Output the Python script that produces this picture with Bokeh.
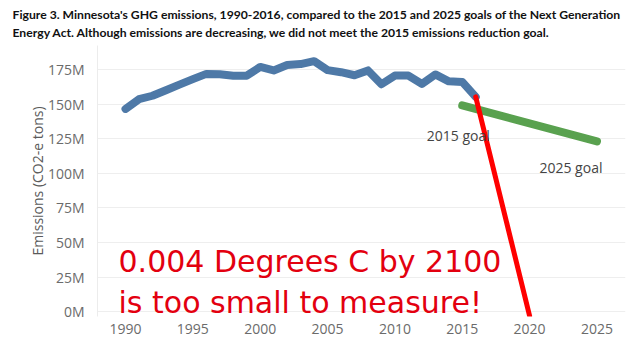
from bokeh.plotting import figure
from bokeh.models import FixedTicker, PrintfTickFormatter, Label, Range1d, Title
from bokeh.embed import file_html
from bokeh.resources import INLINE

# ---- data (values in millions of CO2-e tons) ----
years = [1990, 1991, 1992, 1993, 1994, 1995, 1996, 1997, 1998, 1999,
         2000, 2001, 2002, 2003, 2004, 2005, 2006, 2007, 2008, 2009,
         2010, 2011, 2012, 2013, 2014, 2015, 2016]
emissions = [146.5, 153.5, 156.0, 160.0, 164.0, 168.0, 171.8, 171.5, 170.5, 170.5,
             176.8, 174.3, 178.2, 178.9, 181.0, 174.5, 173.0, 170.8, 174.3, 164.3,
             170.6, 170.6, 164.5, 171.4, 166.4, 166.0, 155.2]
goal_years = [2015, 2025]
goal_values = [149.0, 123.0]
goal_labels = ["2015 goal", "2025 goal"]
red_years = [2016, 2020]
red_values = [155.2, -3.0]
x_ticks = [1990, 1995, 2000, 2005, 2010, 2015, 2020, 2025]
y_ticks = [0, 25, 50, 75, 100, 125, 150, 175]

title1 = ("Figure 3. Minnesota's GHG emissions, 1990-2016, compared to the 2015 "
          "and 2025 goals of the Next Generation")
title2 = ("Energy Act. Although emissions are decreasing, we did not meet the 2015 "
          "emissions reduction goal.")
note1 = "0.004 Degrees C by 2100"
note2 = "is too small to measure!"

p = figure(width=632, height=345, output_backend="svg", toolbar_location=None,
           title=None,
           x_range=Range1d(1987.92, 2027.12), y_range=Range1d(-3.47, 192.3),
           min_border_left=97, min_border_right=7, min_border_top=45,
           min_border_bottom=29)
p.outline_line_color = None
p.background_fill_color = "white"
p.border_fill_color = "white"

# two-line caption above the chart
p.add_layout(Title(text=title1 + "\n" + title2, align="left", offset=-85,
                   standoff=7, vertical_align="top",
                   text_font="Lato", text_font_size="12.2px",
                   text_line_height=1.2,
                   text_font_style="bold", text_color="#111111"), "above")

# axes
p.xaxis.ticker = FixedTicker(ticks=x_ticks)
p.yaxis.ticker = FixedTicker(ticks=y_ticks)
p.yaxis.formatter = PrintfTickFormatter(format="%dM")
for ax in (p.xaxis[0], p.yaxis[0]):
    ax.major_tick_line_color = None
    ax.minor_tick_line_color = None
    ax.major_label_text_font = "Open Sans"
    ax.major_label_text_font_size = "14px"
    ax.major_label_text_color = "#6b6b6b"
p.xaxis.axis_line_color = None
p.yaxis.axis_line_color = "#ececec"
p.xaxis.major_label_standoff = 1
p.yaxis.major_label_standoff = 7
p.yaxis.axis_label = "Emissions (CO2-e tons)"
p.yaxis.axis_label_text_font = "Open Sans"
p.yaxis.axis_label_text_font_size = "14px"
p.yaxis.axis_label_text_font_style = "normal"
p.yaxis.axis_label_text_color = "#5a5a5a"
p.yaxis.axis_label_standoff = -2

p.xgrid.grid_line_color = None
p.ygrid.grid_line_color = "#eeeeee"
p.ygrid.grid_line_width = 1

# series
p.line(years, emissions, line_color="#4E79A7", line_width=8,
       line_join="round", line_cap="round")
p.line(goal_years, goal_values, line_color="#59A14F", line_width=8,
       line_cap="round")
p.line(red_years, red_values, line_color="#FF0000", line_width=5,
       line_cap="round")

# goal labels, anchored on the goal points
for gx, gy, gt, dx, dy in zip(goal_years, goal_values, goal_labels,
                              (-4, -26), (-30, -26)):
    p.add_layout(Label(x=gx, y=gy, text=gt, x_offset=dx, y_offset=dy,
                       text_font="Open Sans", text_font_size="14px",
                       text_color="#444444", text_align="center",
                       text_baseline="alphabetic"))

# big red annotation
for txt, yv in ((note1, 36.3), (note2, 6.6)):
    p.add_layout(Label(x=1989.48, y=yv, text=txt, text_font="DejaVu Sans",
                       text_font_size="30px", text_color="#E3000F",
                       text_align="left", text_baseline="alphabetic"))

open("out.html", "w").write(file_html(p, INLINE))
